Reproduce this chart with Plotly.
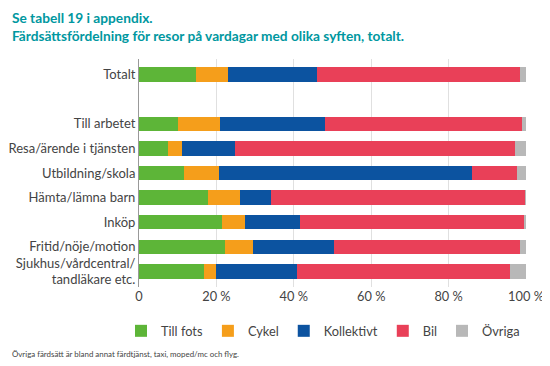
import plotly.graph_objects as go

categories = ["Totalt", " ", "Till arbetet", "Resa/ärende i tjänsten", "Utbildning/skola",
              "Hämta/lämna barn", "Inköp", "Fritid/nöje/motion",
              "Sjukhus/vårdcentral/<br>tandläkare etc."]
till_fots =   [14.8, None, 10.2, 7.6, 11.6, 17.9, 21.5, 22.2, 16.7]
cykel =       [8.1, None, 10.7, 3.5, 9.0, 8.3, 5.8, 7.2, 3.2]
kollektivt =  [23.0, None, 27.1, 13.7, 65.5, 7.9, 14.3, 21.1, 21.0]
bil =         [52.6, None, 51.0, 72.4, 11.7, 65.7, 57.9, 48.0, 55.0]
ovriga =      [1.4, None, 1.0, 2.8, 2.2, 0.2, 0.5, 1.5, 4.1]

series = [("Till fots", till_fots, "#5db538"),
          ("Cykel", cykel, "#f59e1b"),
          ("Kollektivt", kollektivt, "#0c53a0"),
          ("Bil", bil, "#e94058"),
          ("Övriga", ovriga, "#b8b8b8")]

tick_vals = [0, 20, 40, 60, 80, 100]
tick_text = ["0", "20 %", "40 %", "60 %", "80 %", "100 %"]

FONT = "Lato"
OFF = 8  # page body margin
FW, FH = 550 - OFF, 366 - OFF
L, T, W, H = 139 - OFF, 59 - OFF, 387, 228

fig = go.Figure()
for name, vals, col in series:
    fig.add_trace(go.Bar(y=categories, x=vals, name=name, orientation="h",
                         marker=dict(color=col, line=dict(width=0))))

fig.update_layout(
    barmode="stack", bargap=0.42,
    width=FW, height=FH,
    margin=dict(l=L, r=FW - L - W, t=T, b=FH - T - H, autoexpand=False),
    plot_bgcolor="white", paper_bgcolor="white",
    font=dict(family=FONT, size=12, color="#444"),
    showlegend=True,
    legend=dict(orientation="h", x=(121 - 139) / W, xanchor="left",
                y=-(331 - (59 + H)) / H, yanchor="middle",
                font=dict(family=FONT, size=12.8, color="#444"), traceorder="normal"),
    annotations=[
        dict(text="<b>Se tabell 19 i appendix.<br>Färdsättsfördelning för resor på vardagar med olika syften, totalt.</b>",
             xref="paper", yref="paper", x=(10 - 139) / W, y=1 + (59 - 7) / H,
             xanchor="left", yanchor="top", showarrow=False, align="left",
             font=dict(family=FONT, size=13.7, color="#0097a0")),
        dict(text="Övriga färdsätt är bland annat färdtjänst, taxi, moped/mc och flyg.",
             xref="paper", yref="paper", x=(10 - 139) / W, y=-(354 - (59 + H)) / H,
             xanchor="left", yanchor="middle", showarrow=False, align="left",
             font=dict(family=FONT, size=7.9, color="#444")),
    ],
)
fig.update_xaxes(range=[0, 100], tickvals=tick_vals, ticktext=tick_text,
                 showgrid=True, gridcolor="#e0e0e0", gridwidth=1,
                 zeroline=False, showline=False, ticks="", fixedrange=True,
                 automargin=False, tickfont=dict(size=12.8, color="#444"))
fig.update_yaxes(categoryorder="array", categoryarray=categories,
                 range=[8.63, -0.63], showgrid=False, zeroline=False,
                 showline=True, linecolor="#999", linewidth=1, ticks="",
                 automargin=False, tickfont=dict(size=13, color="#444"))

fig.write_html("out.html")
